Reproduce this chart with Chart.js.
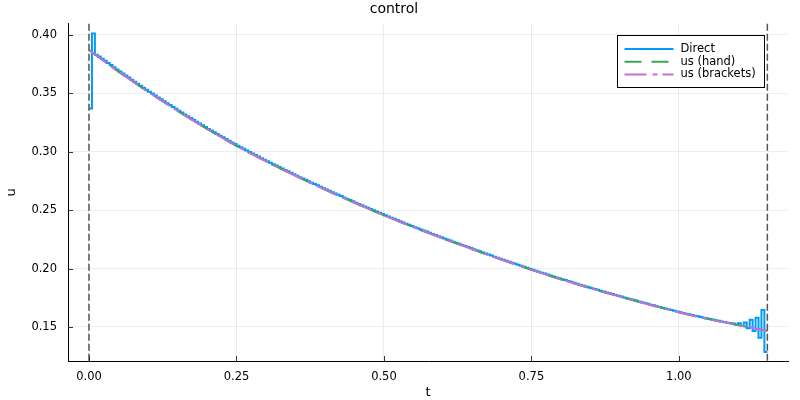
<!DOCTYPE html>
<html>
<head>
<meta charset="utf-8">
<script src="https://cdn.jsdelivr.net/npm/chart.js@4/dist/chart.umd.min.js"></script>
<style>
  body { margin: 0; background: #fff; }
  #wrap { width: 800px; height: 400px; }
</style>
</head>
<body>
<div id="wrap"><canvas id="myChart" width="800" height="400"></canvas></div>
<script>
// tick positions
const xTicks = [0, 0.25, 0.5, 0.75, 1.0];
const yTicks = [0.15, 0.20, 0.25, 0.30, 0.35, 0.40];
// dashed vertical lines (t0 and tf)
const vlineT = [0, 1.15];

// smooth solutions, every 0.05
const usT = [0, 0.05, 0.10, 0.15, 0.20, 0.25, 0.30, 0.35, 0.40, 0.45, 0.50, 0.55,
             0.60, 0.65, 0.70, 0.75, 0.80, 0.85, 0.90, 0.95, 1.00, 1.05, 1.10, 1.15];
const usHand = [0.3870, 0.3685, 0.3513, 0.3350, 0.3195, 0.3050, 0.2918, 0.2794, 0.2676, 0.2563, 0.2455, 0.2354,
                0.2258, 0.2165, 0.2075, 0.1989, 0.1908, 0.1832, 0.1760, 0.1691, 0.1626, 0.1568, 0.1516, 0.1468];
const usBrackets = [0.3870, 0.3685, 0.3513, 0.3350, 0.3195, 0.3050, 0.2918, 0.2794, 0.2676, 0.2563, 0.2455, 0.2354,
                    0.2258, 0.2165, 0.2075, 0.1989, 0.1908, 0.1832, 0.1760, 0.1691, 0.1626, 0.1568, 0.1516, 0.1468];

// Direct: piecewise constant control, step 0.005
const directStartT = [0, 0.005, 0.010];
const directStartU = [0.337, 0.401, 0.383];
const directMidT0 = 0.015, directMidStep = 0.005;
const directMidU = [
  0.3815, 0.3796, 0.3778, 0.3759, 0.3741, 0.3722, 0.3704, 0.3685,
  0.3668, 0.3651, 0.3634, 0.3616, 0.3599, 0.3582, 0.3565, 0.3547, 0.3530, 0.3513,
  0.3497, 0.3480, 0.3464, 0.3448, 0.3432, 0.3415, 0.3399, 0.3383, 0.3367, 0.3350,
  0.3335, 0.3319, 0.3304, 0.3288, 0.3273, 0.3257, 0.3242, 0.3226, 0.3211, 0.3195,
  0.3181, 0.3166, 0.3152, 0.3137, 0.3123, 0.3108, 0.3094, 0.3079, 0.3065, 0.3050,
  0.3037, 0.3024, 0.3011, 0.2997, 0.2984, 0.2971, 0.2958, 0.2944, 0.2931, 0.2918,
  0.2906, 0.2893, 0.2881, 0.2868, 0.2856, 0.2844, 0.2832, 0.2819, 0.2807, 0.2794,
  0.2782, 0.2770, 0.2759, 0.2747, 0.2735, 0.2723, 0.2712, 0.2700, 0.2688, 0.2676,
  0.2665, 0.2653, 0.2642, 0.2631, 0.2620, 0.2608, 0.2597, 0.2586, 0.2575, 0.2563,
  0.2552, 0.2541, 0.2531, 0.2520, 0.2509, 0.2498, 0.2488, 0.2477, 0.2466, 0.2455,
  0.2445, 0.2435, 0.2425, 0.2415, 0.2405, 0.2394, 0.2384, 0.2374, 0.2364, 0.2354,
  0.2345, 0.2335, 0.2326, 0.2316, 0.2306, 0.2296, 0.2287, 0.2277, 0.2268, 0.2258,
  0.2249, 0.2239, 0.2230, 0.2221, 0.2212, 0.2202, 0.2193, 0.2184, 0.2175, 0.2165,
  0.2156, 0.2147, 0.2138, 0.2129, 0.2120, 0.2111, 0.2102, 0.2093, 0.2084, 0.2075,
  0.2067, 0.2058, 0.2050, 0.2041, 0.2032, 0.2023, 0.2015, 0.2006, 0.1998, 0.1989,
  0.1981, 0.1973, 0.1965, 0.1957, 0.1949, 0.1940, 0.1932, 0.1924, 0.1916, 0.1908,
  0.1901, 0.1893, 0.1886, 0.1878, 0.1870, 0.1862, 0.1855, 0.1847, 0.1840, 0.1832,
  0.1825, 0.1818, 0.1811, 0.1803, 0.1796, 0.1789, 0.1782, 0.1774, 0.1767, 0.1760,
  0.1753, 0.1746, 0.1739, 0.1732, 0.1726, 0.1719, 0.1712, 0.1705, 0.1698, 0.1691,
  0.1685, 0.1678, 0.1672, 0.1665, 0.1659, 0.1652, 0.1646, 0.1639, 0.1633, 0.1626,
  0.1620, 0.1614, 0.1609, 0.1603, 0.1597, 0.1591, 0.1586, 0.1580, 0.1574, 0.1568,
  0.1563, 0.1558, 0.1553, 0.1547, 0.1542, 0.1537
];
const directEndT0 = 1.085, directEndStep = 0.005;
const directEndU = [0.1535, 0.1530, 0.1522, 0.1532, 0.1510, 0.1538, 0.1490,
                    0.1562, 0.1466, 0.1580, 0.1408, 0.1645, 0.1285];
const directFinalT = 1.15;

const BLUE = 'rgb(0,154,250)', GREEN = 'rgb(62,164,78)', PURPLE = 'rgb(194,113,210)';

const directPts = [];
directStartT.forEach((t, i) => directPts.push({x: t, y: directStartU[i]}));
directMidU.forEach((u, i) => directPts.push({x: directMidT0 + i * directMidStep, y: u}));
directEndU.forEach((u, i) => directPts.push({x: directEndT0 + i * directEndStep, y: u}));
directPts.push({x: directFinalT, y: directEndU[directEndU.length - 1]});

const overlay = {
  id: 'overlay',
  afterDatasetsDraw(chart) {
    const {ctx, chartArea: a, scales: {x}} = chart;
    ctx.save();
    ctx.strokeStyle = '#555';
    ctx.lineWidth = 1.5;
    ctx.setLineDash([7, 3]);
    vlineT.forEach(t => {
      const px = x.getPixelForValue(t);
      ctx.beginPath();
      ctx.moveTo(px, a.top);
      ctx.lineTo(px, a.bottom);
      ctx.stroke();
    });
    ctx.restore();
  },
  afterDraw(chart) {
    const {ctx, chartArea: a, scales: {x, y}} = chart;
    ctx.save();
    // inward ticks
    ctx.strokeStyle = '#333';
    ctx.lineWidth = 1;
    xTicks.forEach(v => {
      const px = Math.round(x.getPixelForValue(v)) + 0.5;
      ctx.beginPath(); ctx.moveTo(px, a.bottom); ctx.lineTo(px, a.bottom - 5); ctx.stroke();
    });
    yTicks.forEach(v => {
      const py = Math.round(y.getPixelForValue(v)) + 0.5;
      ctx.beginPath(); ctx.moveTo(a.left, py); ctx.lineTo(a.left + 5, py); ctx.stroke();
    });
    // legend box
    const lx = Math.round(a.right - 171) + 0.5, ly = Math.round(a.top + 11) + 0.5;
    const w = 147, h = 52;
    ctx.fillStyle = '#fff';
    ctx.fillRect(lx, ly, w, h);
    ctx.strokeStyle = '#000';
    ctx.strokeRect(lx, ly, w, h);
    ctx.font = '11.5px "DejaVu Sans"';
    ctx.textBaseline = 'middle';
    chart.data.datasets.forEach((ds, i) => {
      const ry = ly + 13.5 + i * 12.7;
      ctx.strokeStyle = ds.borderColor;
      ctx.lineWidth = 2;
      ctx.setLineDash(ds.borderDash || []);
      ctx.beginPath(); ctx.moveTo(lx + 7, ry); ctx.lineTo(lx + 56, ry); ctx.stroke();
      ctx.setLineDash([]);
      ctx.fillStyle = '#000';
      ctx.fillText(ds.label, lx + 63, ry);
    });
    ctx.restore();
  }
};

Chart.defaults.font.family = '"DejaVu Sans"';
Chart.defaults.color = '#000';

const ctx = document.getElementById('myChart').getContext('2d');
const myChart = new Chart(ctx, {
  type: 'line',
  data: {
    datasets: [
      {
        label: 'Direct',
        data: directPts,
        borderColor: BLUE,
        borderWidth: 2,
        stepped: 'before',
        pointRadius: 0,
        order: 3
      },
      {
        label: 'us (hand)',
        data: usT.map((t, i) => ({x: t, y: usHand[i]})),
        borderColor: GREEN,
        borderWidth: 2,
        borderDash: [17, 10],
        cubicInterpolationMode: 'monotone',
        pointRadius: 0,
        order: 2
      },
      {
        label: 'us (brackets)',
        data: usT.map((t, i) => ({x: t, y: usBrackets[i]})),
        borderColor: PURPLE,
        borderWidth: 2,
        borderDash: [22, 6, 5, 5],
        cubicInterpolationMode: 'monotone',
        pointRadius: 0,
        order: 1
      }
    ]
  },
  options: {
    responsive: false,
    animation: false,
    devicePixelRatio: 1,
    layout: { padding: { left: 0, right: 12, top: 0, bottom: 0 } },
    plugins: {
      legend: { display: false },
      tooltip: { enabled: false },
      title: {
        display: true,
        text: 'control',
        font: { size: 14, weight: 'normal' },
        padding: { top: 1, bottom: 6 }
      }
    },
    scales: {
      x: {
        type: 'linear',
        min: -0.0356,
        max: 1.185,
        afterBuildTicks: s => { s.ticks = xTicks.map(v => ({value: v})); },
        afterFit: s => { s.height = 39; },
        ticks: {
          callback: v => v.toFixed(2),
          font: { size: 11.5 },
          padding: 9,
          maxRotation: 0,
          autoSkip: false
        },
        grid: { color: 'rgba(0,0,0,0.07)', drawTicks: false },
        border: { color: '#000', width: 1 },
        title: { display: true, text: 't', font: { size: 13 }, padding: { top: -3, bottom: 0 } }
      },
      y: {
        min: 0.1209,
        max: 0.4094,
        afterBuildTicks: s => { s.ticks = yTicks.map(v => ({value: v})); },
        afterFit: s => { s.width = 68; },
        ticks: {
          callback: v => v.toFixed(2),
          font: { size: 11.5 },
          padding: 11,
          autoSkip: false
        },
        grid: { color: 'rgba(0,0,0,0.07)', drawTicks: false },
        border: { color: '#000', width: 1 },
        title: { display: true, text: 'u', font: { size: 13 }, padding: { top: 4, bottom: 0 } }
      }
    }
  },
  plugins: [overlay]
});
</script>
</body>
</html>
